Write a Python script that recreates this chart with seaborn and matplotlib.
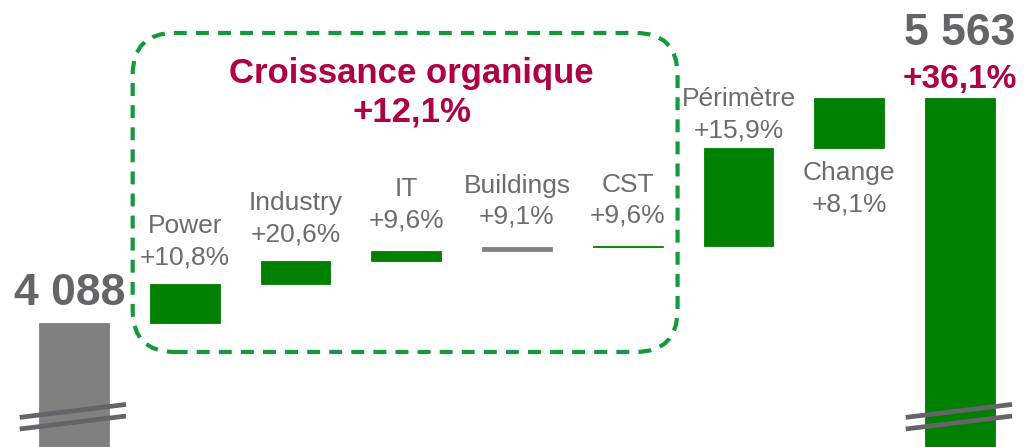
import matplotlib
matplotlib.use('Agg')
import matplotlib.pyplot as plt
from matplotlib.patches import FancyBboxPatch
import seaborn as sns
import numpy as np

# data
categories = ['Début', 'Power', 'Industry', 'IT', 'Buildings', 'CST', 'Périmètre', 'Change', 'Fin']
start_value = 4088
end_value = 5563
deltas = [256, 151, 66, 22, 7, 643, 330]
step_names = ['Power', 'Industry', 'IT', 'Buildings', 'CST', 'Périmètre', 'Change']
step_growth = ['+10,8%', '+20,6%', '+9,6%', '+9,1%', '+9,6%', '+15,9%', '+8,1%']
total_growth = '+36,1%'
organic_title = 'Croissance organique'
organic_growth = '+12,1%'

GREEN = '#008000'
GREY = '#808080'
TXT = '#646469'
LBL = '#6b6b70'
CRIMSON = '#ad0046'
BOX = '#14993c'

sns.set_style('white')
plt.rcParams['font.family'] = ['Liberation Sans', 'DejaVu Sans']

# waterfall geometry
running = start_value + np.concatenate([[0], np.cumsum(deltas)])
bottoms = [0] + list(running[:-1]) + [0]
heights = [start_value] + deltas + [end_value]
colors = [GREY, GREEN, GREEN, GREEN, GREY, GREEN, GREEN, GREEN, GREEN]

fig = plt.figure(figsize=(10.24, 4.47), dpi=100)
ax = fig.add_axes([0, 0, 1, 1])

sns.barplot(x=categories, y=heights, hue=categories, palette=colors,
            legend=False, width=0.63, saturation=1, ax=ax)
# lift the floating bars onto the running total
for patch, b in zip(ax.patches, bottoms):
    patch.set_y(b)
    # thin edge in the fill colour so the tiny steps still show
    patch.set_edgecolor(patch.get_facecolor())
    patch.set_linewidth(0.6)

ax.set_xlim(-0.668, 8.578)
ax.set_ylim(3275, 6205)
ax.axis('off')

# labels for the steps (gap above the bar, in points)
label_gap = {'IT': 17, 'Buildings': 17, 'CST': 17, 'Périmètre': 8}
for i, (name, g) in enumerate(zip(step_names, step_growth), start=1):
    top = bottoms[i] + heights[i]
    if name == 'Change':
        ax.annotate(f'{name}\n{g}', (i, bottoms[i]), xytext=(0, -9), textcoords='offset points',
                    ha='center', va='top', fontsize=19, color=LBL, linespacing=1.38)
    else:
        ax.annotate(f'{name}\n{g}', (i, top), xytext=(0, label_gap.get(name, 14)),
                    textcoords='offset points', ha='center', va='baseline',
                    fontsize=19, color=LBL, linespacing=1.38)

# start / end totals
ax.annotate(f'{start_value:,}'.replace(',', ' '), (0, start_value), xytext=(-3, 13),
            textcoords='offset points', ha='center', va='baseline',
            fontsize=32, fontweight='bold', color=TXT)
ax.annotate(f'{end_value:,}'.replace(',', ' '), (8, end_value), xytext=(0, 38),
            textcoords='offset points', ha='center', va='baseline',
            fontsize=32, fontweight='bold', color=TXT)
ax.annotate(total_growth, (8, end_value), xytext=(0, 7),
            textcoords='offset points', ha='center', va='baseline',
            fontsize=24, fontweight='bold', color=CRIMSON)

# axis-break marks on the two total bars
for xc in [0, 8]:
    for dy in [0, 76]:
        ax.plot([xc - 0.49, xc + 0.47], [3393 + dy, 3478 + dy], color=TXT, lw=3.4,
                solid_capstyle='butt', zorder=5)

# dashed rounded box around the organic growth part
x0, y0 = ax.transData.transform((0.53, 3898))
x1, y1 = ax.transData.transform((5.45, 5989))
box = FancyBboxPatch((x0 / fig.dpi, y0 / fig.dpi), (x1 - x0) / fig.dpi, (y1 - y0) / fig.dpi,
                     boxstyle='round,pad=0,rounding_size=0.42', transform=fig.dpi_scale_trans,
                     fill=False, edgecolor=BOX, lw=3, linestyle=(0, (3.1, 2.2)), zorder=4)
ax.add_artist(box)

ax.text(3.05, 5595, f'{organic_title}\n{organic_growth}', ha='center', va='center',
        fontsize=25, fontweight='bold', color=CRIMSON, linespacing=1.2)

plt.savefig('out.png', dpi=100)
